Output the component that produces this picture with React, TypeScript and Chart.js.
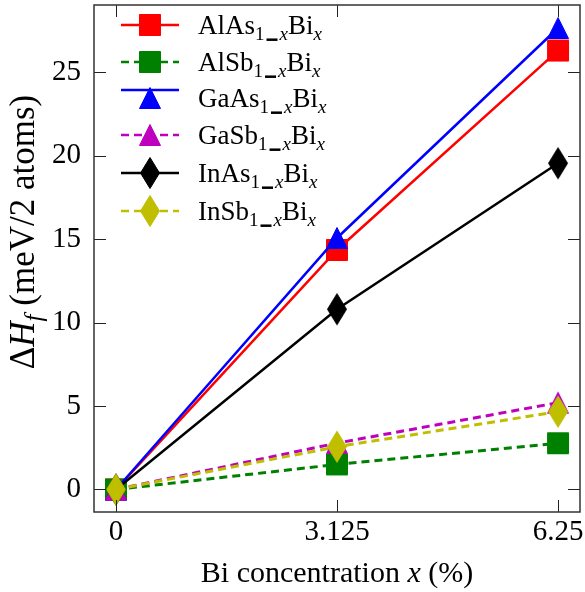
import React, { useEffect, useRef } from 'react';
import { Chart, registerables } from 'chart.js';
Chart.register(...registerables);

const xValues = [0, 3.125, 6.25];
const xTickLabels = ['0', '3.125', '6.25'];
const yTickValues = [0, 5, 10, 15, 20, 25];
const compoundNames = ['AlAs', 'AlSb', 'GaAs', 'GaSb', 'InAs', 'InSb'];
const alAs = [0, 14.35, 26.3];
const alSb = [0, 1.5, 2.77];
const gaAs = [0, 15.07, 27.65];
const gaSb = [0, 2.78, 5.2];
const inAs = [0, 10.8, 19.55];
const inSb = [0, 2.56, 4.66];
const seriesValues = [alAs, alSb, gaAs, gaSb, inAs, inSb];
const seriesColors = ['#ff0000', '#008000', '#0000ff', '#bf00bf', '#000000', '#bfbf00'];
const seriesDashed = [false, true, false, true, false, true];
const seriesMarkers = ['square', 'square', 'triangle', 'triangle', 'diamond', 'diamond'];

const FONT = '"Liberation Serif", "Times New Roman", serif';

function makeMarker(kind: string, color: string): HTMLCanvasElement {
  const c = document.createElement('canvas');
  let w = 24, h = 24;
  if (kind === 'diamond') { w = 22; h = 34; }
  c.width = w; c.height = h;
  const ctx = c.getContext('2d')!;
  ctx.fillStyle = color;
  ctx.strokeStyle = color;
  ctx.lineWidth = 1;
  ctx.beginPath();
  if (kind === 'square') {
    ctx.rect(1.5, 1.5, 21, 21);
  } else if (kind === 'triangle') {
    ctx.moveTo(12, 1.5);
    ctx.lineTo(22.5, 22.5);
    ctx.lineTo(1.5, 22.5);
    ctx.closePath();
  } else {
    ctx.moveTo(11, 1.5);
    ctx.lineTo(20.5, 17);
    ctx.lineTo(11, 32.5);
    ctx.lineTo(1.5, 17);
    ctx.closePath();
  }
  ctx.fill();
  ctx.stroke();
  return c;
}

type Run = { t: string; it?: boolean; sub?: boolean; bar?: number };

function runFont(r: Run, size: number) {
  return `${r.it ? 'italic ' : ''}${r.sub ? Math.round(size * 0.72) : size}px ${FONT}`;
}

function drawRuns(ctx: CanvasRenderingContext2D, runs: Run[], x: number, y: number, size: number, align: 'left' | 'center') {
  ctx.save();
  ctx.textBaseline = 'alphabetic';
  ctx.textAlign = 'left';
  const widths = runs.map((r) => {
    if (r.bar) return r.bar;
    ctx.font = runFont(r, size);
    return ctx.measureText(r.t).width;
  });
  const total = widths.reduce((a, b) => a + b, 0);
  let cx = align === 'center' ? x - total / 2 : x;
  const subDy = size * 0.22;
  runs.forEach((r, i) => {
    if (r.bar) {
      ctx.fillRect(cx + 2, y + subDy - 1.5, r.bar - 4, 2.5);
    } else {
      ctx.font = runFont(r, size);
      ctx.fillText(r.t, cx, r.sub ? y + subDy : y);
    }
    cx += widths[i];
  });
  ctx.restore();
}

function makeDecorPlugin(markers: HTMLCanvasElement[]) {
  return {
    id: 'decor',
    afterDraw(chart: any) {
      const { ctx, chartArea: a, scales } = chart;
      ctx.save();
      // inward ticks
      ctx.strokeStyle = '#222';
      ctx.lineWidth = 1;
      const tl = 12;
      xValues.forEach((v) => {
        const px = Math.round(scales.x.getPixelForValue(v)) + 0.5;
        ctx.beginPath();
        ctx.moveTo(px, a.bottom); ctx.lineTo(px, a.bottom - tl);
        ctx.moveTo(px, a.top); ctx.lineTo(px, a.top + tl);
        ctx.stroke();
      });
      yTickValues.forEach((v) => {
        const py = Math.round(scales.y.getPixelForValue(v)) + 0.5;
        ctx.beginPath();
        ctx.moveTo(a.left, py); ctx.lineTo(a.left + tl, py);
        ctx.moveTo(a.right, py); ctx.lineTo(a.right - tl, py);
        ctx.stroke();
      });
      // frame
      ctx.strokeStyle = '#333';
      ctx.lineWidth = 1.5;
      ctx.strokeRect(a.left, a.top, a.right - a.left, a.bottom - a.top);
      ctx.fillStyle = '#000';
      // x title
      drawRuns(ctx, [{ t: 'Bi concentration ' }, { t: 'x', it: true }, { t: ' (%)' }], (a.left + a.right) / 2, 582, 30, 'center');
      // y title
      ctx.save();
      ctx.translate(34, 232);
      ctx.rotate(-Math.PI / 2);
      drawRuns(ctx, [{ t: 'Δ' }, { t: 'H', it: true }, { t: 'f', it: true, sub: true }, { t: ' (meV/2 atoms)' }], 0, 0, 35, 'center');
      ctx.restore();
      // legend
      const rowY = [25, 62, 98, 135, 173, 211];
      const lineYOffset = [0, 0, -8, 0, 0, 0];
      compoundNames.forEach((name, i) => {
        const y = rowY[i];
        const ly = y + lineYOffset[i];
        ctx.save();
        ctx.strokeStyle = seriesColors[i];
        ctx.lineWidth = 2.5;
        ctx.setLineDash(seriesDashed[i] ? [8, 5] : []);
        ctx.beginPath();
        ctx.moveTo(121, ly); ctx.lineTo(179, ly);
        ctx.stroke();
        ctx.restore();
        const m = markers[i];
        ctx.drawImage(m, 150 - m.width / 2, y - m.height / 2);
        ctx.fillStyle = '#000';
        drawRuns(
          ctx,
          [{ t: name }, { t: '1', sub: true }, { t: '', bar: 15 }, { t: 'x', it: true, sub: true }, { t: 'Bi' }, { t: 'x', it: true, sub: true }],
          198,
          y + 9,
          27,
          'left'
        );
      });
      ctx.restore();
    },
  };
}

export default function App() {
  const ref = useRef<HTMLCanvasElement>(null);
  useEffect(() => {
    document.body.style.margin = '0';
    const markers = seriesMarkers.map((k, i) => makeMarker(k, seriesColors[i]));
    const tickFont = { family: FONT, size: 29 };
    const chart = new Chart(ref.current!, {
      type: 'line',
      data: {
        datasets: seriesValues.map((vals, i) => ({
          label: compoundNames[i],
          data: vals.map((v, j) => ({ x: xValues[j], y: v })),
          borderColor: seriesColors[i],
          backgroundColor: seriesColors[i],
          borderWidth: seriesDashed[i] ? 3 : 2.5,
          borderDash: seriesDashed[i] ? [8, 5] : [],
          pointStyle: markers[i] as any,
          pointRadius: 10,
          pointHoverRadius: 10,
          order: 6 - i,
          clip: false as any,
          tension: 0,
        })),
      },
      options: {
        animation: false,
        responsive: false,
        events: [],
        layout: { autoPadding: false, padding: { top: 5, right: 5, left: 0, bottom: 0 } },
        plugins: { legend: { display: false }, tooltip: { enabled: false } },
        scales: {
          x: {
            type: 'linear',
            min: -0.311,
            max: 6.561,
            afterBuildTicks: (s: any) => { s.ticks = xValues.map((v) => ({ value: v })); },
            afterFit: (s: any) => { s.height = 80; s.paddingLeft = 0; s.paddingRight = 0; },
            ticks: {
              autoSkip: false,
              maxRotation: 0,
              padding: 3,
              color: '#000',
              font: tickFont,
              callback: (v: any) => { const k = xValues.indexOf(Number(v)); return k >= 0 ? xTickLabels[k] : ''; },
            },
            grid: { display: false, drawTicks: false },
            border: { display: false },
          },
          y: {
            type: 'linear',
            min: -1.35,
            max: 29.03,
            afterBuildTicks: (s: any) => { s.ticks = yTickValues.map((v) => ({ value: v })); },
            afterFit: (s: any) => { s.width = 94; s.paddingTop = 0; s.paddingBottom = 0; },
            ticks: { padding: 13, color: '#000', font: tickFont, callback: (v: any) => String(v) },
            grid: { display: false, drawTicks: false },
            border: { display: false },
          },
        },
      },
      plugins: [makeDecorPlugin(markers)],
    } as any);
    return () => chart.destroy();
  }, []);
  return <canvas ref={ref} width={585} height={592} style={{ display: 'block', width: 585, height: 592 }} />;
}
